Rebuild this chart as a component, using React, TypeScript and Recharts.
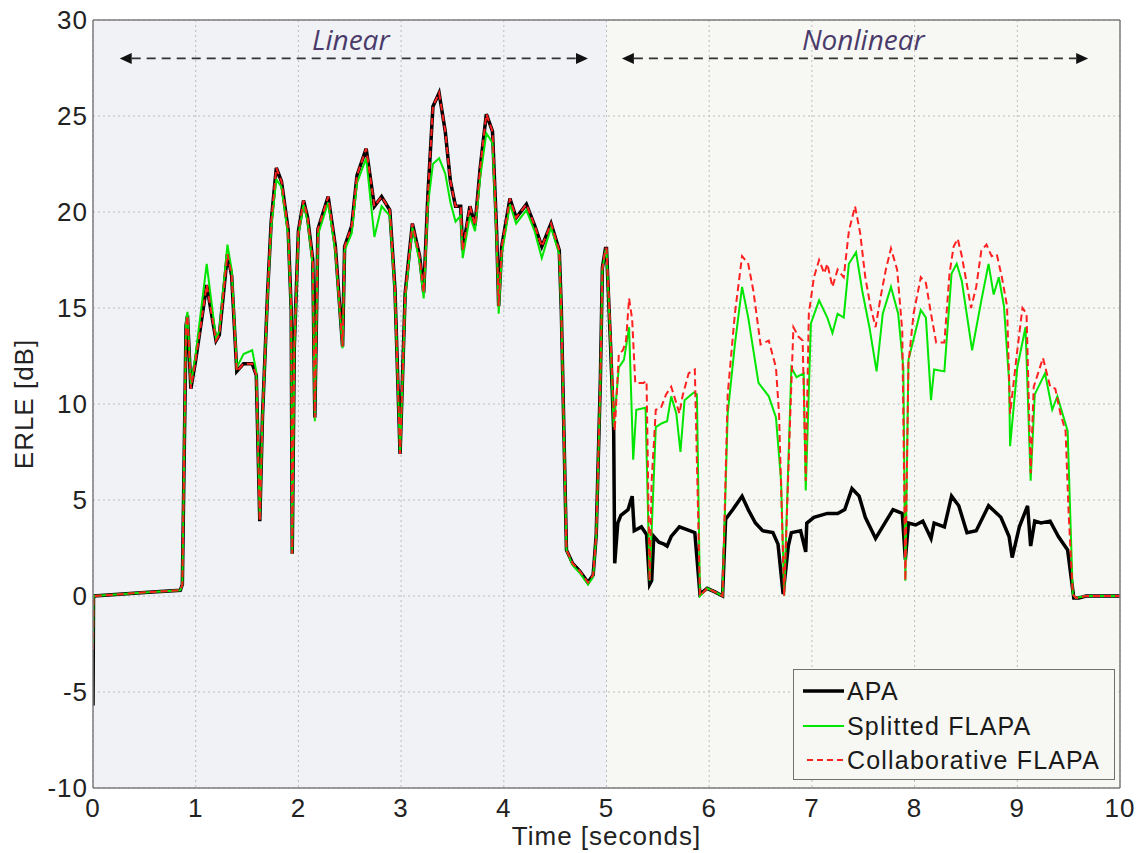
import React from 'react';
import { LineChart, Line, XAxis, YAxis, CartesianGrid, ReferenceLine, ReferenceDot, Legend } from 'recharts';

// ---------- data ----------
const linT = [0, 0.005, 0.54, 0.85, 0.87, 0.906, 0.92, 0.953, 1.0, 1.107, 1.198, 1.23, 1.309, 1.35, 1.40, 1.466, 1.55, 1.59, 1.624, 1.65, 1.70, 1.735, 1.785, 1.835, 1.90, 1.93, 1.94, 1.96, 2.00, 2.05, 2.09, 2.14, 2.16, 2.19, 2.29, 2.36, 2.43, 2.45, 2.52, 2.57, 2.66, 2.74, 2.81, 2.89, 2.94, 2.99, 3.04, 3.11, 3.18, 3.22, 3.26, 3.31, 3.37, 3.43, 3.48, 3.53, 3.58, 3.60, 3.67, 3.72, 3.77, 3.83, 3.89, 3.93, 3.95, 3.98, 4.06, 4.12, 4.22, 4.30, 4.37, 4.46, 4.54, 4.56, 4.59, 4.61, 4.67, 4.74, 4.82, 4.87, 4.90, 4.94, 4.96, 4.99];

const linApa = [-5.7, 0, 0.2, 0.3, 0.6, 14.1, 14.6, 10.8, 12.3, 16.2, 13.3, 13.6, 17.8, 16.7, 11.7, 12.1, 12.1, 11.5, 3.9, 9.3, 15.8, 19.5, 22.3, 21.6, 19.1, 14.9, 2.2, 13.0, 19.0, 20.6, 19.7, 17.5, 9.3, 19.1, 20.8, 18.2, 13.0, 18.2, 19.3, 21.9, 23.3, 20.3, 20.8, 20.1, 16.0, 7.4, 15.8, 19.4, 17.7, 15.8, 20.8, 25.5, 26.2, 24.2, 21.6, 20.3, 20.3, 18.0, 20.3, 19.3, 22.3, 25.1, 24.2, 19.0, 15.1, 18.2, 20.7, 19.7, 20.4, 19.3, 18.2, 19.4, 18.0, 14.9, 7.4, 2.4, 1.7, 1.3, 0.7, 1.1, 3.2, 11.2, 17.1, 18.1];

const linRed = [-2.8, 0, 0.2, 0.3, 0.6, 14.1, 14.6, 10.8, 12.3, 16.2, 13.3, 13.6, 17.8, 16.7, 11.7, 12.1, 12.1, 11.5, 3.9, 9.3, 15.8, 19.5, 22.3, 21.6, 19.1, 14.9, 2.2, 13.0, 19.0, 20.6, 19.7, 17.5, 9.3, 19.1, 20.8, 18.2, 13.0, 18.2, 19.3, 21.9, 23.3, 20.3, 20.8, 20.1, 16.0, 7.4, 15.8, 19.4, 17.7, 15.8, 20.8, 25.5, 26.2, 24.2, 21.6, 20.3, 20.3, 18.0, 20.3, 19.3, 22.3, 25.1, 24.2, 19.0, 15.1, 18.2, 20.7, 19.7, 20.4, 19.3, 18.2, 19.4, 18.0, 14.9, 7.4, 2.4, 1.7, 1.3, 0.7, 1.1, 3.2, 11.2, 17.1, 18.1];

const linGreen = [-2.8, 0, 0.2, 0.3, 0.6, 14.3, 14.8, 11.0, 12.6, 17.3, 13.4, 13.8, 18.3, 17.0, 11.9, 12.6, 12.8, 11.7, 4.0, 9.3, 15.6, 19.2, 21.7, 21.3, 18.8, 14.7, 2.2, 12.8, 18.8, 20.4, 19.5, 17.2, 9.1, 18.8, 20.5, 17.9, 12.9, 18.0, 18.9, 21.5, 22.8, 18.7, 20.3, 19.8, 15.8, 7.4, 15.5, 19.2, 17.4, 15.5, 20.3, 22.5, 22.8, 22.0, 20.5, 19.5, 19.8, 17.6, 19.8, 19.0, 21.8, 24.1, 23.6, 18.6, 14.7, 17.8, 20.4, 19.4, 20.1, 19.0, 17.6, 19.2, 17.8, 14.7, 7.4, 2.4, 1.6, 1.2, 0.6, 1.0, 3.1, 11.0, 17.0, 18.0];

const nlApa: [number, number][] = [
  [5.0, 18.1], [5.04, 13.0], [5.07, 8.6], [5.08, 1.7], [5.11, 3.8], [5.14, 4.2], [5.21, 4.5], [5.25, 5.2], [5.27, 3.4], [5.34, 3.6], [5.39, 3.2], [5.42, 0.6], [5.44, 0.8], [5.46, 3.1], [5.51, 2.8], [5.56, 2.7], [5.59, 2.6], [5.63, 3.1], [5.71, 3.6], [5.81, 3.4], [5.86, 3.3], [5.91, 0.1], [5.98, 0.4], [6.06, 0.2], [6.13, 0.0], [6.16, 4.0], [6.23, 4.5], [6.32, 5.2], [6.38, 4.5], [6.45, 3.8], [6.52, 3.4], [6.62, 3.3], [6.67, 2.7], [6.72, 0.1], [6.77, 2.6], [6.80, 3.3], [6.89, 3.4], [6.94, 2.3], [6.95, 3.8], [7.02, 4.1], [7.15, 4.3], [7.25, 4.3], [7.32, 4.5], [7.39, 5.6], [7.46, 5.2], [7.52, 4.1], [7.62, 3.0], [7.71, 3.8], [7.79, 4.5], [7.88, 4.3], [7.91, 1.9], [7.94, 3.8], [8.01, 3.7], [8.08, 3.9], [8.16, 3.0], [8.19, 3.8], [8.29, 3.6], [8.36, 5.2], [8.43, 4.7], [8.51, 3.3], [8.60, 3.4], [8.72, 4.7], [8.84, 4.1], [8.92, 3.1], [8.95, 2.0], [9.02, 3.6], [9.10, 4.7], [9.13, 2.6], [9.17, 3.9], [9.23, 3.8], [9.32, 3.9], [9.40, 3.1], [9.49, 2.4], [9.55, -0.1], [9.60, -0.1], [9.67, 0.0], [10.0, 0.0],
];

const nlRed: [number, number][] = [
  [5.0, 18.1], [5.04, 13.5], [5.06, 10.9], [5.08, 8.6], [5.12, 12.6], [5.16, 12.8], [5.19, 13.3], [5.22, 15.5], [5.25, 14.4], [5.28, 11.1], [5.36, 11.1], [5.39, 11.2], [5.42, 0.8], [5.44, 6.0], [5.48, 9.7], [5.53, 9.8], [5.58, 10.5], [5.63, 10.9], [5.66, 10.4], [5.71, 9.5], [5.74, 10.4], [5.80, 11.6], [5.86, 11.8], [5.91, 0.0], [5.98, 0.4], [6.06, 0.2], [6.13, 0.0], [6.18, 10.5], [6.25, 14.7], [6.32, 17.7], [6.38, 17.3], [6.43, 15.9], [6.50, 13.1], [6.58, 13.3], [6.65, 11.9], [6.68, 9.5], [6.73, 0.0], [6.79, 9.5], [6.82, 14.0], [6.87, 13.5], [6.91, 13.3], [6.94, 6.0], [6.97, 14.7], [7.02, 16.6], [7.07, 17.5], [7.12, 16.8], [7.15, 17.3], [7.20, 16.1], [7.25, 17.0], [7.31, 16.6], [7.36, 19.0], [7.42, 20.3], [7.47, 18.9], [7.52, 16.6], [7.57, 15.1], [7.62, 14.0], [7.67, 15.6], [7.72, 17.0], [7.77, 18.1], [7.83, 17.0], [7.88, 13.8], [7.91, 0.8], [7.94, 12.1], [7.99, 14.7], [8.06, 16.6], [8.11, 16.3], [8.16, 14.7], [8.21, 13.2], [8.29, 13.2], [8.34, 16.8], [8.38, 18.2], [8.42, 18.6], [8.46, 17.7], [8.55, 15.0], [8.60, 16.1], [8.65, 18.0], [8.70, 18.3], [8.75, 17.7], [8.80, 17.8], [8.85, 16.6], [8.90, 15.1], [8.93, 9.5], [9.00, 12.8], [9.05, 15.0], [9.09, 14.7], [9.13, 6.4], [9.16, 10.9], [9.25, 12.4], [9.32, 10.9], [9.37, 10.8], [9.42, 9.5], [9.47, 8.6], [9.50, 4.3], [9.54, 0.1], [9.57, -0.1], [9.67, 0.0], [10.0, 0.0],
];

const nlGreen: [number, number][] = [
  [5.0, 18.0], [5.04, 13.0], [5.07, 8.8], [5.12, 11.9], [5.17, 12.3], [5.22, 14.0], [5.26, 7.1], [5.29, 9.7], [5.38, 9.8], [5.42, 0.8], [5.48, 8.8], [5.54, 9.0], [5.59, 9.1], [5.63, 10.4], [5.68, 9.5], [5.72, 7.5], [5.76, 10.2], [5.85, 10.6], [5.88, 10.5], [5.91, 0.0], [5.98, 0.4], [6.06, 0.2], [6.13, 0.0], [6.18, 9.5], [6.25, 13.1], [6.32, 16.1], [6.38, 14.5], [6.48, 11.1], [6.58, 10.4], [6.65, 9.3], [6.70, 6.0], [6.73, 0.0], [6.80, 11.9], [6.85, 11.4], [6.92, 11.6], [6.94, 5.5], [6.99, 14.2], [7.07, 15.4], [7.15, 14.5], [7.20, 13.7], [7.25, 14.7], [7.31, 14.5], [7.36, 17.3], [7.43, 17.9], [7.49, 15.9], [7.56, 14.0], [7.63, 11.7], [7.69, 14.7], [7.77, 16.1], [7.84, 14.7], [7.89, 11.9], [7.91, 0.8], [7.94, 12.3], [8.06, 14.9], [8.11, 14.5], [8.16, 10.2], [8.19, 11.8], [8.29, 11.7], [8.36, 16.8], [8.41, 17.3], [8.46, 16.4], [8.56, 12.8], [8.65, 15.4], [8.72, 17.3], [8.77, 15.7], [8.82, 16.6], [8.87, 15.1], [8.92, 11.2], [8.93, 7.8], [9.00, 11.9], [9.08, 14.0], [9.13, 6.0], [9.17, 10.5], [9.27, 11.6], [9.34, 9.7], [9.39, 10.4], [9.44, 9.5], [9.49, 8.6], [9.54, 0.1], [9.57, -0.1], [9.67, 0.0], [10.0, 0.0],
];

const xTicks = [0, 1, 2, 3, 4, 5, 6, 7, 8, 9, 10];
const yTicks = [-10, -5, 0, 5, 10, 15, 20, 25, 30];
const seriesNames = ['APA', 'Splitted FLAPA', 'Collaborative FLAPA'];
const regionLabels = ['Linear', 'Nonlinear'];
const regionCenters = [2.51, 7.5];
const arrowSpans: [number, number][] = [[0.26, 4.82], [5.15, 9.69]];
const arrowLevel = 28;
const labelLevel = 29;

// ---------- build ----------
const fromLin = (vals: number[]) => linT.map((t, i) => ({ t, v: vals[i] }));
const fromPairs = (p: [number, number][]) => p.map(([t, v]) => ({ t, v }));
const apaData = [...fromLin(linApa), ...fromPairs(nlApa)];
const greenData = [...fromLin(linGreen), ...fromPairs(nlGreen)];
const redData = [...fromLin(linRed), ...fromPairs(nlRed)];

const FONT = '"Liberation Sans", Arial, Helvetica, sans-serif';
const LEFT_BG = '#f1f2f5';
const RIGHT_BG = '#f7f8f3';
const stripeFills = [LEFT_BG, LEFT_BG, LEFT_BG, LEFT_BG, LEFT_BG, RIGHT_BG, RIGHT_BG, RIGHT_BG, RIGHT_BG, RIGHT_BG];

const ArrowShape = (props: any) => {
  const { x1, y1, x2, y2 } = props;
  const h = 12;
  const w = 5.5;
  return (
    <g>
      <line x1={x1 + h} y1={y1} x2={x2 - h} y2={y2} stroke="#333" strokeWidth={1.6} strokeDasharray="9 6" />
      <polygon points={`${x1},${y1} ${x1 + h},${y1 - w} ${x1 + h},${y1 + w}`} fill="#111" />
      <polygon points={`${x2},${y2} ${x2 - h},${y2 - w} ${x2 - h},${y2 + w}`} fill="#111" />
    </g>
  );
};

const regionLabel = (text: string) => (p: any) => {
  const vb = p.viewBox || {};
  return (
    <text
      x={vb.x}
      y={vb.y + 11}
      textAnchor="middle"
      fontFamily='"Open Sans", sans-serif'
      fontStyle="italic"
      fontSize={28}
      fill="#4a3b6b"
    >
      {text}
    </text>
  );
};

const emptyTick = () => <g />;

const LegendBox = () => {
  const rows = [
    { name: seriesNames[0], stroke: '#000', width: 3.5, dash: undefined as string | undefined, x0: 9 },
    { name: seriesNames[1], stroke: '#00e600', width: 2, dash: undefined, x0: 9 },
    { name: seriesNames[2], stroke: '#ff2020', width: 2, dash: '6 4', x0: 13 },
  ];
  return (
    <div
      style={{
        width: 322,
        height: 111,
        boxSizing: 'border-box',
        border: '1.5px solid #707070',
        background: RIGHT_BG,
        fontFamily: FONT,
        fontSize: 25,
        letterSpacing: 1.2,
        color: '#1a1a1a',
        paddingTop: 4,
      }}
    >
      {rows.map((r) => (
        <div key={r.name} style={{ display: 'flex', alignItems: 'center', height: 34.5 }}>
          <svg width={53} height={20} style={{ flex: 'none' }}>
            <line x1={r.x0} y1={10} x2={50} y2={10} stroke={r.stroke} strokeWidth={r.width} strokeDasharray={r.dash} />
          </svg>
          <span style={{ lineHeight: '34px' }}>{r.name}</span>
        </div>
      ))}
    </div>
  );
};

const tickStyle = { fill: '#222', fontSize: 26, fontFamily: FONT, letterSpacing: 1 };

export default function App() {
  return (
    <div style={{ position: 'absolute', left: 0, top: 0, width: 1142, height: 853, background: '#fff' }}>
      <LineChart width={1142} height={853} margin={{ top: 20, right: 22, bottom: 0, left: 0 }}>
        <CartesianGrid
          stroke="#bcbcbc"
          strokeDasharray="2 3"
          verticalFill={stripeFills}
          fillOpacity={1}
        />
        <XAxis
          type="number"
          dataKey="t"
          domain={[0, 10]}
          ticks={xTicks}
          allowDataOverflow
          height={65}
          axisLine={false}
          tickLine={false}
          tickSize={0}
          tickMargin={11}
          tick={tickStyle}
          label={{
            content: (p: any) => {
              const vb = p.viewBox || {};
              return (
                <text x={vb.x + vb.width / 2} y={vb.y + 57} textAnchor="middle" fontFamily={FONT} fontSize={26} letterSpacing={1} fill="#222">
                  Time [seconds]
                </text>
              );
            },
          }}
        />
        <XAxis xAxisId="bm" type="number" dataKey="t" domain={[0, 10]} ticks={xTicks} orientation="bottom" mirror height={10} axisLine={{ stroke: '#7d7d7d', strokeWidth: 1.5 }} tickLine={{ stroke: '#7d7d7d', strokeWidth: 1.5 }} tickSize={8} tick={emptyTick} />
        <XAxis xAxisId="tp" type="number" dataKey="t" domain={[0, 10]} ticks={xTicks} orientation="top" mirror height={10} axisLine={{ stroke: '#7d7d7d', strokeWidth: 1.5 }} tickLine={{ stroke: '#7d7d7d', strokeWidth: 1.5 }} tickSize={8} tick={emptyTick} />
        <YAxis
          type="number"
          domain={[-10, 30]}
          ticks={yTicks}
          allowDataOverflow
          width={93}
          axisLine={false}
          tickLine={false}
          tickSize={0}
          tickMargin={5}
          tick={tickStyle}
          label={{
            content: (p: any) => {
              const vb = p.viewBox || {};
              const cx = vb.x + 24;
              const cy = vb.y + vb.height / 2;
              return (
                <text x={cx} y={cy} dy="0.36em" transform={`rotate(-90 ${cx} ${cy})`} textAnchor="middle" fontFamily={FONT} fontSize={26} letterSpacing={1} fill="#222">
                  ERLE [dB]
                </text>
              );
            },
          }}
        />
        <YAxis yAxisId="lm" type="number" domain={[-10, 30]} ticks={yTicks} orientation="left" mirror width={10} axisLine={{ stroke: '#7d7d7d', strokeWidth: 1.5 }} tickLine={{ stroke: '#7d7d7d', strokeWidth: 1.5 }} tickSize={8} tick={emptyTick} />
        <YAxis yAxisId="rm" type="number" domain={[-10, 30]} ticks={yTicks} orientation="right" mirror width={10} axisLine={{ stroke: '#7d7d7d', strokeWidth: 1.5 }} tickLine={{ stroke: '#7d7d7d', strokeWidth: 1.5 }} tickSize={8} tick={emptyTick} />

        {arrowSpans.map(([a, b], i) => (
          <ReferenceLine
            key={`arr${i}`}
            segment={[{ x: a, y: arrowLevel }, { x: b, y: arrowLevel }]}
            shape={ArrowShape}
          />
        ))}
        {regionLabels.map((txt, i) => (
          <ReferenceDot
            key={`lab${i}`}
            x={regionCenters[i]}
            y={labelLevel}
            r={0}
            fill="none"
            stroke="none"
            label={{ content: regionLabel(txt) }}
          />
        ))}

        <Line data={apaData} dataKey="v" name={seriesNames[0]} type="linear" stroke="#000" strokeWidth={3.5} dot={false} activeDot={false} isAnimationActive={false} />
        <Line data={greenData} dataKey="v" name={seriesNames[1]} type="linear" stroke="#00e600" strokeWidth={2} dot={false} activeDot={false} isAnimationActive={false} />
        <Line data={redData} dataKey="v" name={seriesNames[2]} type="linear" stroke="#ff2020" strokeWidth={2} strokeDasharray="7 4" dot={false} activeDot={false} isAnimationActive={false} />

        <Legend
          layout="horizontal"
          verticalAlign="middle"
          align="center"
          wrapperStyle={{ position: 'absolute', left: 793, top: 669, width: 322, height: 111 }}
          content={() => <LegendBox />}
        />
      </LineChart>
    </div>
  );
}
